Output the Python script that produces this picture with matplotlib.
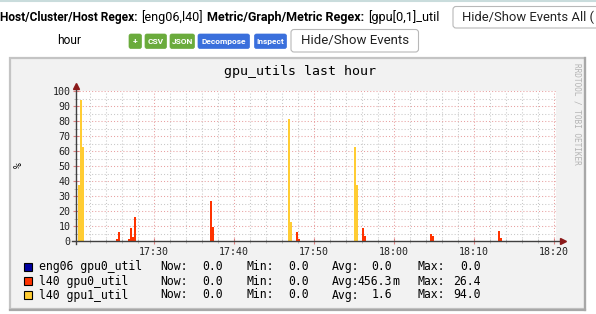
import matplotlib
matplotlib.use('Agg')
import matplotlib.pyplot as plt
from matplotlib.patches import Rectangle, FancyBboxPatch

# nonzero 15 s samples, everything else is 0
red_times = ['17:25:15', '17:25:30', '17:26:45', '17:27:00', '17:27:15', '17:27:30',
             '17:37:00', '17:37:15', '17:47:45', '17:48:00', '17:56:00', '17:56:15',
             '18:04:30', '18:04:45', '18:13:00', '18:13:15']
red_vals = [1.3, 6.0, 1.3, 8.7, 2.7, 16.0, 26.4, 9.6, 6.0, 1.3, 8.7, 3.3, 4.7, 3.5, 6.7, 1.8]
yellow_times = ['17:20:30', '17:20:45', '17:21:00', '17:46:45', '17:47:00', '17:55:00', '17:55:15']
yellow_vals = [37.3, 94.0, 62.7, 81.3, 12.7, 62.7, 37.3]

series_names = ['eng06 gpu0_util', 'l40 gpu0_util', 'l40 gpu1_util']
series_colors = ['#0000a0', '#ff3300', '#ffcc33']
now_vals = ['0.0', '0.0', '0.0']
min_vals = ['0.0', '0.0', '0.0']
avg_vals = ['0.0', '456.3m', '1.6']
max_vals = ['0.0', '26.4', '94.0']

tick_labels = ['17:30', '17:40', '17:50', '18:00', '18:10', '18:20']
y_ticks = [0, 10, 20, 30, 40, 50, 60, 70, 80, 90, 100]

start, end = '17:20:15', '18:20:15'
step = 0.25  # minutes


def mins(t):
    # minutes since 17:00
    p = [int(v) for v in t.split(':')]
    return (p[0] - 17) * 60 + p[1] + (p[2] if len(p) > 2 else 0) / 60


mono = 'DejaVu Sans Mono'
html = 'Roboto'
W, H = 596, 314
fig = plt.figure(figsize=(W / 100, H / 100), dpi=100)
renderer = fig.canvas.get_renderer()

# page / panel layer in pixel coordinates
bg = fig.add_axes([0, 0, 1, 1], zorder=0)
bg.set_xlim(0, W)
bg.set_ylim(H, 0)
bg.axis('off')


def fit_text(x, y, s, width, size=9, **kw):
    # html text: scale the font so the string spans the width seen in the screenshot
    t = bg.text(x, y, s, fontsize=size, va='center', **kw)
    w = t.get_window_extent(renderer).width
    t.set_fontsize(size * width / w)
    return t


bg.plot([0, W], [0.8, 0.8], color='#c9dcdc', lw=1.5)

# header line
fit_text(0, 17, 'Host/Cluster/Host Regex:', 137, fontweight='bold', family=html)
fit_text(141, 17, '[eng06,l40]', 62, family=html)
fit_text(207, 17, 'Metric/Graph/Metric Regex:', 157, fontweight='bold', family=html)
fit_text(368, 17, '[gpu[0,1]_util', 72, family=html)

bg.add_patch(FancyBboxPatch((453, 6.5), 160, 21.5, boxstyle='round,pad=0,rounding_size=3',
                            fc='white', ec='#b8b8b8', lw=0.8))
fit_text(462, 17.5, 'Hide/Show Events All (', 132, family=html, color='#222222')

fit_text(57, 40, 'hour', 24, family=html)
buttons = [('+', 129, 141.5, '#6aab3c'), ('CSV', 145, 166.5, '#6aab3c'), ('JSON', 170, 194.5, '#6aab3c'),
           ('Decompose', 198, 249.5, '#3a6fdc'), ('Inspect', 254.5, 286.5, '#3a6fdc')]
for txt, x0, x1, c in buttons:
    bg.add_patch(FancyBboxPatch((x0, 34), x1 - x0, 14.5, boxstyle='round,pad=0,rounding_size=2',
                                fc=c, ec=c, lw=0.5))
    bg.text((x0 + x1) / 2, 41.5, txt, fontsize=6.0, fontweight='bold', family=html,
            color='white', ha='center', va='center')
bg.add_patch(FancyBboxPatch((291, 29.5), 127.5, 22.5, boxstyle='round,pad=0,rounding_size=3',
                            fc='white', ec='#b8b8b8', lw=0.8))
fit_text(301, 40.5, 'Hide/Show Events', 108, family=html, color='#222222')

# rrd image panel
bg.add_patch(Rectangle((10, 58), 575, 251, fc='#f2f2f2', ec='#c4c4c4', lw=1.6))
bg.plot([10, 585], [309.5, 309.5], color='#a8a8a8', lw=1.6)
bg.plot([584.5, 584.5], [58, 310], color='#a8a8a8', lw=1.6)

bg.text(300, 71, 'gpu_utils last hour', fontsize=9.5, family=mono, ha='center', va='center')
bg.text(19, 165, '%', fontsize=7, family=mono, rotation=90, ha='center', va='center')
bg.text(577, 63, 'RRDTOOL / TOBI OETIKER', fontsize=5.6, family=mono, rotation=270,
        ha='center', va='top', color='#b4b4b4')

# legend block
rows_y = [266.7, 281.3, 295.0]
for i, yc in enumerate(rows_y):
    bg.add_patch(Rectangle((24, yc - 4), 8, 8, fc=series_colors[i], ec='black', lw=0.8))
    kw = dict(fontsize=8.3, family=mono, va='center')
    bg.text(39, yc, series_names[i], **kw)
    bg.text(160, yc, 'Now:', **kw)
    bg.text(223, yc, now_vals[i], ha='right', **kw)
    bg.text(246.5, yc, 'Min:', **kw)
    bg.text(309, yc, min_vals[i], ha='right', **kw)
    bg.text(332, yc, 'Avg:', **kw)
    a = avg_vals[i]
    if a.endswith('m'):
        bg.text(392, yc, a[:-1], ha='right', **kw)
        bg.text(392, yc, 'm', ha='left', **kw)
    else:
        bg.text(392, yc, a, ha='right', **kw)
    bg.text(418, yc, 'Max:', **kw)
    bg.text(481, yc, max_vals[i], ha='right', **kw)

# graph area
ax = fig.add_axes([76 / W, (H - 241) / H, 480 / W, 150 / H], zorder=1)
ax.set_facecolor('white')
ax.bar([mins(t) for t in red_times], red_vals, width=step, align='edge',
       color=series_colors[1], lw=0, zorder=3)
ax.bar([mins(t) for t in yellow_times], yellow_vals, width=step, align='edge',
       color=series_colors[2], lw=0, zorder=3)

ax.set_xlim(mins(start), mins(end))
ax.set_ylim(0, 100)
ax.set_xticks([mins(t) for t in tick_labels])
ax.set_xticklabels(tick_labels)
ax.set_xticks([m for m in range(22, 81, 2) if m % 10], minor=True)
ax.set_yticks(y_ticks)
ax.set_yticks([v + 5 for v in y_ticks[:-1]], minor=True)
for lbl in ax.get_xticklabels() + ax.get_yticklabels():
    lbl.set_family(mono)
    lbl.set_fontsize(7.2)
    lbl.set_color('#222222')

ax.grid(True, which='major', color='#e8a0a0', ls=(0, (1, 2)), lw=0.75)
ax.grid(True, which='minor', color='#c8c8c8', ls=(0, (1, 2)), lw=0.75)
ax.tick_params(which='major', direction='inout', length=4, color='#e08080', pad=2)
ax.tick_params(which='minor', direction='inout', length=3, color='#b0b0b0')
for s in ax.spines.values():
    s.set_visible(False)

# axis lines with arrow heads
ax.plot([-0.008, 1.012], [0, 0], transform=ax.transAxes, color='#404040', lw=1, clip_on=False, zorder=4)
ax.plot([0, 0], [-0.02, 1.03], transform=ax.transAxes, color='#404040', lw=1, clip_on=False, zorder=4)
ax.plot([0], [1.035], transform=ax.transAxes, marker='^', ms=4, color='#8b1a1a', clip_on=False, zorder=5)
ax.plot([1.014], [0], transform=ax.transAxes, marker='>', ms=4, color='#8b1a1a', clip_on=False, zorder=5)

fig.savefig('out.png', dpi=100)
